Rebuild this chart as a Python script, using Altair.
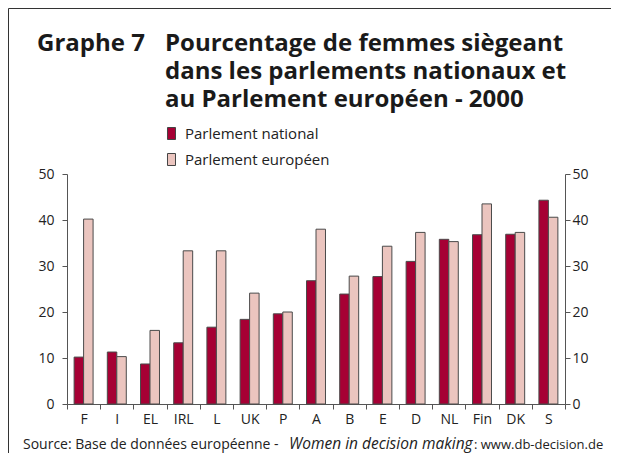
import altair as alt
import pandas as pd

countries = ["F", "I", "EL", "IRL", "L", "UK", "P", "A", "B", "E", "D", "NL", "Fin", "DK", "S"]
national = [10.2, 11.3, 8.7, 13.3, 16.7, 18.4, 19.6, 26.8, 23.9, 27.7, 31.0, 35.8, 36.8, 36.9, 44.3]
european = [40.2, 10.3, 16.0, 33.3, 33.3, 24.1, 20.0, 38.0, 27.8, 34.3, 37.3, 35.3, 43.5, 37.3, 40.6]
series = ["Parlement national", "Parlement européen"]
colors = ["#a60034", "#ebc5bf"]
y_ticks = [0, 10, 20, 30, 40, 50]
title_label = "Graphe 7"
title_lines = ["Pourcentage de femmes siègeant",
               "dans les parlements nationaux et",
               "au Parlement européen - 2000"]
source_parts = ["Source: Base de données européenne - ",
                "Women in decision making",
                ": www.db-decision.de"]

rows = []
for c, n, e in zip(countries, national, european):
    rows.append({"pays": c, "serie": series[0], "valeur": n})
    rows.append({"pays": c, "serie": series[1], "valeur": e})
df = pd.DataFrame(rows)

FONT = "Open Sans"
AX = "#555555"
TXT = "#222222"

yscale = alt.Scale(domain=[0, 50], nice=False, zero=True)

bars = alt.Chart(df).mark_bar(stroke="#4a4a4a", strokeWidth=1).encode(
    x=alt.X("pays:N", sort=countries,
            scale=alt.Scale(paddingInner=0, paddingOuter=0),
            axis=alt.Axis(title=None, labelAngle=0, tickBand="extent", tickSize=5,
                          labelPadding=3, domainColor=AX, tickColor=AX,
                          labelFont=FONT, labelFontSize=14, labelColor=TXT)),
    xOffset=alt.XOffset("serie:N", sort=series,
                        scale=alt.Scale(paddingInner=0, paddingOuter=0.75)),
    y=alt.Y("valeur:Q", scale=yscale,
            axis=alt.Axis(orient="left", values=y_ticks, title=None, grid=False,
                          tickSize=5, labelPadding=8, domainColor=AX, tickColor=AX,
                          labelFont=FONT, labelFontSize=14, labelColor=TXT)),
    color=alt.Color("serie:N", sort=series,
                    scale=alt.Scale(domain=series, range=colors),
                    legend=alt.Legend(title=None, orient="none", legendX=97, legendY=-48,
                                      symbolType="M-0.667,-1H0.667V1H-0.667Z",
                                      symbolSize=144, symbolStrokeColor="#444444",
                                      symbolStrokeWidth=1, symbolOpacity=1,
                                      labelFont=FONT, labelFontSize=15, labelColor=TXT,
                                      labelOffset=6, rowPadding=9)),
)

right_axis = alt.Chart(df).mark_point(opacity=0).encode(
    y=alt.Y("valeur:Q", scale=yscale,
            axis=alt.Axis(orient="right", values=y_ticks, title=None, grid=False,
                          tickSize=5, labelPadding=2, domainColor=AX, tickColor=AX,
                          labelFont=FONT, labelFontSize=14, labelColor=TXT)),
)

one = pd.DataFrame({"a": [0]})

title_a = alt.Chart(pd.DataFrame({"t": [title_label]})).mark_text(
    font=FONT, fontSize=24, fontWeight="bold", align="left", baseline="alphabetic",
    color="#1a1a1a").encode(text="t:N", x=alt.value(-30), y=alt.value(-123))

title_b = alt.Chart(pd.DataFrame({"t": ["\n".join(title_lines)]})).mark_text(
    font=FONT, fontSize=24, fontWeight="bold", align="left", baseline="alphabetic",
    lineBreak="\n", lineHeight=28, color="#1a1a1a").encode(
    text="t:N", x=alt.value(98), y=alt.value(-123))

src1 = alt.Chart(pd.DataFrame({"t": [source_parts[0]]})).mark_text(
    font=FONT, fontSize=14, align="left", baseline="alphabetic", color=TXT).encode(
    text="t:N", x=alt.value(-44), y=alt.value(275))
src2 = alt.Chart(pd.DataFrame({"t": [source_parts[1]]})).mark_text(
    font=FONT, fontSize=15.5, fontStyle="italic", align="left", baseline="alphabetic",
    color=TXT).encode(text="t:N", x=alt.value(222), y=alt.value(275))
src3 = alt.Chart(pd.DataFrame({"t": [source_parts[2]]})).mark_text(
    font=FONT, fontSize=13, align="left", baseline="alphabetic", color=TXT).encode(
    text="t:N", x=alt.value(407), y=alt.value(275))

frame_left = alt.Chart(one).mark_rule(color="#333333", strokeWidth=1).encode(
    x=alt.value(-58.5), y=alt.value(-165.5), y2=alt.value(290))
frame_top = alt.Chart(one).mark_rule(color="#333333", strokeWidth=1).encode(
    x=alt.value(-58.5), x2=alt.value(544), y=alt.value(-165.5))

chart = alt.layer(
    bars, right_axis, title_a, title_b, src1, src2, src3, frame_left, frame_top
).resolve_axis(y="independent").properties(
    width=498, height=230,
    autosize=alt.AutoSizeParams(type="none"),
    padding={"left": 59, "top": 166, "right": 46, "bottom": 49},
    background="white",
).configure_view(stroke=None)

chart.save("out.html", embed_options={"renderer": "svg", "actions": False})
